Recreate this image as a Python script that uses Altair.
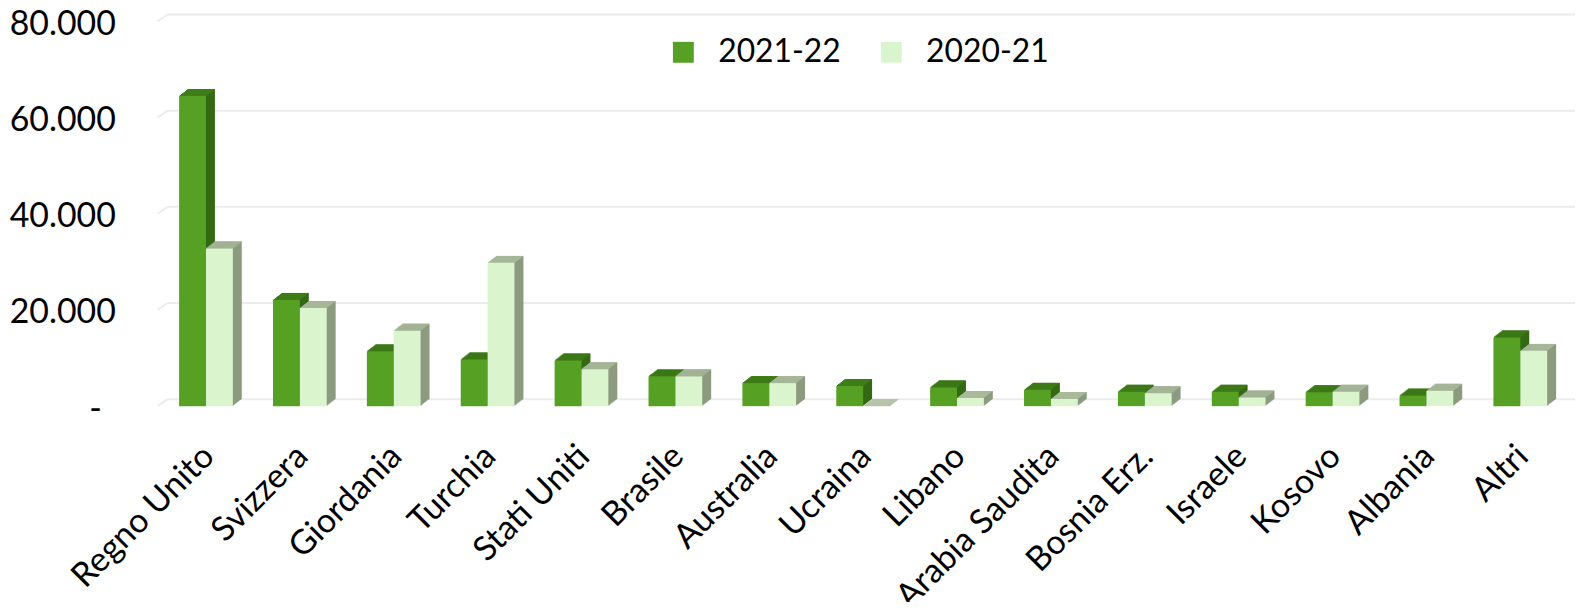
import altair as alt
import pandas as pd

countries = ["Regno Unito", "Svizzera", "Giordania", "Turchia", "Stati Uniti",
             "Brasile", "Australia", "Ucraina", "Libano", "Arabia Saudita",
             "Bosnia Erz.", "Israele", "Kosovo", "Albania", "Altri"]
v2122 = [64500, 22100, 11400, 9700, 9500, 6200, 4800, 4200, 3900, 3400,
         3000, 3000, 2900, 2200, 14300]
v2021 = [32800, 20400, 15700, 29800, 7700, 6200, 4800, 0, 1700, 1500,
         2700, 1800, 3000, 3200, 11500]
series = ["2021-22", "2020-21"]
yticks = [0, 20000, 40000, 60000, 80000]

rows = []
for c, a, b in zip(countries, v2122, v2021):
    rows.append({"country": c, "series": series[0], "v": a})
    rows.append({"country": c, "series": series[1], "v": b})
df = pd.DataFrame(rows)
grid_df = pd.DataFrame({"t": yticks})

FONT = "Lato"
W = 1415.4
H = 386.7
BAR_W = 27
DX, DY = 9, 7

front_colors = ["#56A023", "#DAF5CD"]
top_colors = ["#3F7D18", "#A9BA9B"]
side_colors = ["#346913", "#8C9B80"]

yscale = alt.Scale(domain=[0, 80000], nice=False, zero=True)
xscale = alt.Scale(paddingInner=0.428, paddingOuter=0.214)

xax = alt.Axis(title=None, labelAngle=-45, labelAlign="right", labelBaseline="middle",
               labelFont=FONT, labelFontSize=34, labelColor="#000000", labelPadding=45,
               labelOffset=3,
               domain=False, ticks=False, grid=False, labelOverlap=False, labelBound=False,
               labelFlush=False, labelLimit=500)
yax = alt.Axis(title=None, values=yticks, labelFont=FONT, labelFontSize=34,
               labelColor="#000000",
               labelPadding={"condition": {"test": "datum.value == 0", "value": 58}, "value": 44},
               labelOffset=3,
               domain=False, ticks=False, grid=False,
               labelOverlap=False, labelFlush=False,
               labelExpr="datum.value == 0 ? '-' : replace(format(datum.value, ','), ',', '.')")

X = alt.X("country:N", sort=countries, scale=xscale, axis=xax)

layers = []
# gridlines on the back wall
layers.append(
    alt.Chart(grid_df).mark_rule(color="#ECECEC", strokeWidth=2, yOffset=-DY).encode(
        y=alt.Y("t:Q", scale=yscale, axis=yax),
        x=alt.value(8.5), x2=alt.value(W + 8))
)
layers.append(
    alt.Chart(grid_df).mark_rule(color="#ECECEC", strokeWidth=2, yOffset=0, y2Offset=-DY).encode(
        y=alt.Y("t:Q", scale=yscale, axis=yax), y2="t:Q",
        x=alt.value(-1.5), x2=alt.value(8.5))
)

for s_i, s in enumerate(series):
    base_off = -BAR_W / 2 if s_i == 0 else BAR_W / 2
    flt = alt.datum.series == s
    # side (extrusion copies)
    for k in range(1, DX + 1):
        dy = k * DY / DX
        layers.append(
            alt.Chart(df).transform_filter(flt).mark_bar(
                width=BAR_W, xOffset=base_off + k, yOffset=-dy, y2Offset=-dy,
                color=side_colors[s_i]).encode(
                x=X, y=alt.Y("v:Q", scale=yscale, axis=yax), y2=alt.datum(0))
        )
    # top face rows
    for r in range(DY):
        sh = (r + 0.5) * DX / DY
        layers.append(
            alt.Chart(df).transform_filter(flt).mark_bar(
                width=BAR_W, xOffset=base_off + sh, yOffset=-(r + 1), y2Offset=-r,
                color=top_colors[s_i]).encode(
                x=X, y=alt.Y("v:Q", scale=yscale, axis=yax), y2="v:Q")
        )
    # front face
    layers.append(
        alt.Chart(df).transform_filter(flt).mark_bar(
            width=BAR_W, xOffset=base_off).encode(
            x=X, y=alt.Y("v:Q", scale=yscale, axis=yax), y2=alt.datum(0),
            color=alt.Color("series:N", sort=series,
                            scale=alt.Scale(domain=series, range=front_colors),
                            legend=alt.Legend(title=None, orient="none", legendX=511, legendY=15,
                                              direction="horizontal", symbolType="square",
                                              symbolSize=441, symbolStrokeWidth=0,
                                              labelFont=FONT, labelFontSize=32,
                                              labelColor="#000000", labelOffset=19,
                                              columnPadding=34)))
    )

chart = alt.layer(*layers).properties(
    width=W, height=H,
    autosize=alt.AutoSizeParams(type="none"),
    padding={"left": 151.8, "top": 12, "right": 7.8, "bottom": 195},
    background="#FFFFFF",
).configure_view(stroke=None)

chart.save("out.html", embed_options={"renderer": "svg", "actions": False})
